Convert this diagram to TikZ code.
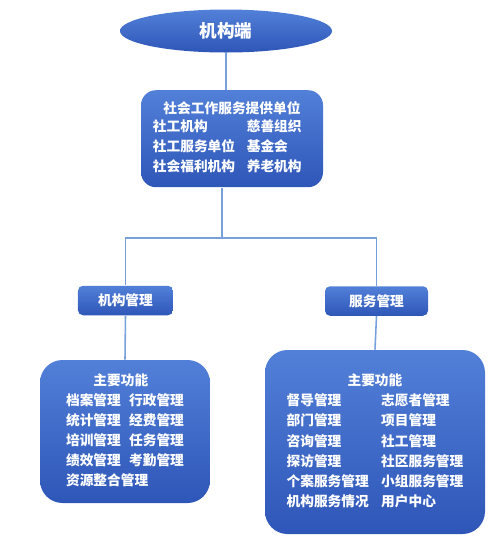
\documentclass[tikz,border=0pt]{standalone}
\usepackage{fontspec}
\newfontfamily\cjk{Noto Sans CJK SC}
\usepackage{tikz}
\usetikzlibrary{shapes.geometric, positioning}

\definecolor{boxtop}{RGB}{82,128,216}
\definecolor{boxbot}{RGB}{46,86,184}
\definecolor{linkblue}{RGB}{120,160,220}

\begin{document}
\begin{tikzpicture}[
  node distance=0.7cm,
  fill/.style={top color=boxtop, bottom color=boxbot, draw=none, text=white},
  oval/.style={ellipse, fill, minimum width=4.24cm, minimum height=0.86cm, inner sep=0pt, font=\cjk\bfseries\fontsize{10}{12}\selectfont},
  unitbox/.style={rectangle, fill, rounded corners=0.3cm, minimum width=3.64cm, minimum height=1.94cm, inner sep=0pt, font=\cjk\bfseries\fontsize{7.8}{11.4}\selectfont},
  tab/.style={rectangle, fill, rounded corners=0.1cm, minimum height=0.59cm, inner sep=0pt, font=\cjk\bfseries\fontsize{7.8}{11.4}\selectfont},
  funcbox/.style={rectangle, fill, rounded corners=0.45cm, inner sep=0pt, font=\cjk\bfseries\fontsize{7.8}{11.4}\selectfont},
  link/.style={draw=linkblue, line width=0.9pt}
]
\useasboundingbox (0,0) rectangle (10,-10.9);
\node[oval] (top) at (4.52,-0.62) {机构端};
\node[unitbox, below=0.74cm of top, xshift=0.12cm] (unit) {%
  \begin{tabular}{@{}l@{\hspace{0.85em}}l@{}}
  \multicolumn{2}{c}{社会工作服务提供单位}\\[-1.5pt]
  社工机构 & 慈善组织\\
  社工服务单位 & 基金会\\
  社会福利机构 & 养老机构
  \end{tabular}};
\node[tab, minimum width=1.9cm] (orgmgmt) at (2.51,-6.01) {机构管理};
\node[tab, minimum width=2.06cm] (svcmgmt) at (7.53,-6.02) {服务管理};
\node[funcbox, minimum width=3.4cm, minimum height=2.86cm] (orgfunc) at (2.5,-8.63) {%
  \begin{tabular}{@{}l@{\hspace{0.6em}}l@{}}
  \multicolumn{2}{@{}l}{\hspace{2em}主要功能}\\
  档案管理 & 行政管理\\
  统计管理 & 经费管理\\
  培训管理 & 任务管理\\
  绩效管理 & 考勤管理\\
  \multicolumn{2}{@{}l}{资源整合管理}
  \end{tabular}};
\node[funcbox, minimum width=4.4cm, minimum height=3.68cm] (svcfunc) at (7.5,-8.84) {%
  \begin{tabular}{@{}l@{\hspace{0.9em}}l@{}}
  \multicolumn{2}{c}{主要功能}\\
  督导管理 & 志愿者管理\\
  部门管理 & 项目管理\\
  咨询管理 & 社工管理\\
  探访管理 & 社区服务管理\\
  个案服务管理 & 小组服务管理\\
  机构服务情况 & 用户中心
  \end{tabular}};
\coordinate (split) at (4.44,-4.76);
\draw[link] (top.south) -- (top.south |- unit.north);
\draw[link] (unit.south -| split) -- (split);
\draw[link] (orgmgmt.north) -- (orgmgmt.north |- split) -- (svcmgmt.north |- split) -- (svcmgmt.north);
\draw[link] (orgmgmt.south) -- (orgfunc.north);
\draw[link] (svcmgmt.south) -- (svcfunc.north);
\end{tikzpicture}
\end{document}
